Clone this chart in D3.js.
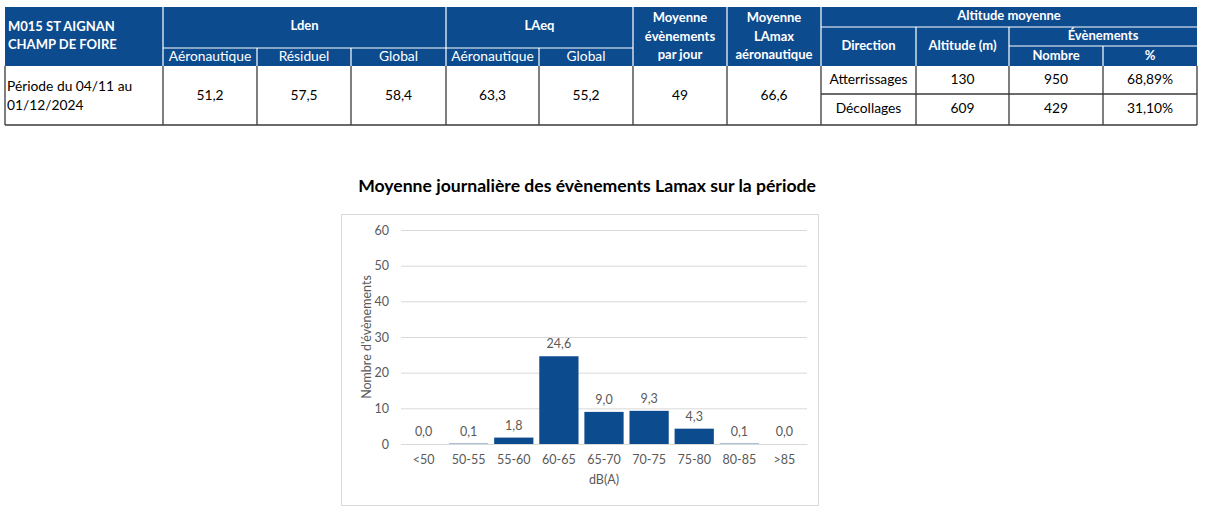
<!DOCTYPE html>
<html><head><meta charset="utf-8">
<script src="https://cdn.jsdelivr.net/npm/d3@7/dist/d3.min.js"></script>
<style>
body{margin:0;background:#fff;}
svg text{font-family:Lato,"Open Sans",sans-serif;}
</style></head>
<body><svg id="c" width="1206" height="510"></svg>
<script>
// ---- data ----
const stationLines = ["M015 ST AIGNAN", "CHAMP DE FOIRE"];
const periodLines = ["Période du 04/11 au", "01/12/2024"];
const ldenCols = ["Aéronautique", "Résiduel", "Global"];
const ldenValues = ["51,2", "57,5", "58,4"];
const laeqCols = ["Aéronautique", "Global"];
const laeqValues = ["63,3", "55,2"];
const moyEvtHeader = ["Moyenne", "évènements", "par jour"];
const moyEvtValue = "49";
const moyLamaxHeader = ["Moyenne", "LAmax", "aéronautique"];
const moyLamaxValue = "66,6";
const directions = ["Atterrissages", "Décollages"];
const altitudes = ["130", "609"];
const nombres = ["950", "429"];
const percents = ["68,89%", "31,10%"];

const categories = ["<50","50-55","55-60","60-65","65-70","70-75","75-80","80-85",">85"];
const values = [0.0, 0.1, 1.8, 24.6, 9.0, 9.3, 4.3, 0.1, 0.0];
const yTicks = [0,10,20,30,40,50,60];
const chartTitle = "Moyenne journalière des évènements Lamax sur la période";

const svg = d3.select("#c");
const blue = "#0d4b8f";
const fmt = v => d3.format(".1f")(v).replace(".", ",");

// ---- table ----
const colX = [5,163,257,351,446,539,633,727,821,916,1009,1103,1197];
const T = svg.append("g");
const yTop = 7, yMid = 48, ySub = 66, yBot = 125;
T.append("rect").attr("x",colX[0]).attr("y",yTop).attr("width",colX[12]-colX[0]).attr("height",ySub-yTop).attr("fill",blue);
const wline = (x1,y1,x2,y2)=>T.append("line").attr("x1",x1).attr("y1",y1).attr("x2",x2).attr("y2",y2).attr("stroke","#fff").attr("stroke-width",1.2);
[1,4,6,7,8].forEach(i=>wline(colX[i],yTop,colX[i],ySub));
[2,3,5].forEach(i=>wline(colX[i],yMid,colX[i],ySub));
[9,10].forEach(i=>wline(colX[i],27,colX[i],ySub));
wline(colX[11],46,colX[11],ySub);
wline(colX[1],yMid,colX[6],yMid);
wline(colX[8],27,colX[12],27);
wline(colX[10],46,colX[12],46);

const txt = (x,y,s,opts={})=>T.append("text").attr("x",x).attr("y",y).text(s)
  .attr("text-anchor",opts.anchor||"middle").attr("dominant-baseline","middle")
  .attr("font-size",opts.size||(opts.bold?13:13.8)).attr("font-weight",opts.bold?"bold":"normal")
  .attr("fill",opts.fill||"#000");
const mid = (a,b)=>(colX[a]+colX[b])/2;
stationLines.forEach((s,i)=>txt(8,28+i*18,s,{anchor:"start",bold:true,fill:"#fff"}));
txt(mid(1,4),27,"Lden",{bold:true,fill:"#fff"});
ldenCols.forEach((s,i)=>txt(mid(1+i,2+i),57,s,{fill:"#fff"}));
txt(mid(4,6),27,"LAeq",{bold:true,fill:"#fff"});
laeqCols.forEach((s,i)=>txt(mid(4+i,5+i),57,s,{fill:"#fff"}));
moyEvtHeader.forEach((s,i)=>txt(mid(6,7),19+i*18.5,s,{bold:true,fill:"#fff"}));
moyLamaxHeader.forEach((s,i)=>txt(mid(7,8),19+i*18.5,s,{bold:true,fill:"#fff"}));
txt(mid(8,12),17,"Altitude moyenne",{bold:true,fill:"#fff"});
txt(mid(8,9),47,"Direction",{bold:true,fill:"#fff"});
txt(mid(9,10),47,"Altitude (m)",{bold:true,fill:"#fff"});
txt(mid(10,12),37,"Évènements",{bold:true,fill:"#fff"});
txt(mid(10,11),57,"Nombre",{bold:true,fill:"#fff"});
txt(mid(11,12),57,"%",{bold:true,fill:"#fff"});

const dline = (x1,y1,x2,y2)=>T.append("line").attr("x1",x1).attr("y1",y1).attr("x2",x2).attr("y2",y2).attr("stroke","#3a3a3a").attr("stroke-width",1.3);
[0,1,2,3,4,5,6,7,8,9,10,11,12].forEach(i=>dline(colX[i],ySub,colX[i],yBot));
dline(colX[0],yBot,colX[12],yBot);
dline(colX[8],94,colX[12],94);
periodLines.forEach((s,i)=>txt(7,87+i*19,s,{anchor:"start"}));
const rowMid = 96;
ldenValues.forEach((s,i)=>txt(mid(1+i,2+i),rowMid,s));
laeqValues.forEach((s,i)=>txt(mid(4+i,5+i),rowMid,s));
txt(mid(6,7),rowMid,moyEvtValue);
txt(mid(7,8),rowMid,moyLamaxValue);
const rowYs=[80,109];
directions.forEach((s,i)=>{
  txt(mid(8,9),rowYs[i],s);
  txt(mid(9,10),rowYs[i],altitudes[i]);
  txt(mid(10,11),rowYs[i],nombres[i]);
  txt(mid(11,12),rowYs[i],percents[i]);
});

// ---- chart ----
svg.append("text").attr("x",587).attr("y",187).attr("text-anchor","middle").attr("dominant-baseline","middle")
  .attr("font-size",17.6).attr("font-weight","bold").attr("fill","#000").text(chartTitle);
svg.append("rect").attr("x",341.5).attr("y",214.5).attr("width",477).attr("height",291).attr("fill","none").attr("stroke","#d9d9d9");

const fs = 12.5;
const x = d3.scaleBand().domain(categories).range([401,807]).paddingInner(0.13).paddingOuter(0.065);
const y = d3.scaleLinear().domain([0,60]).range([444,230]);
const C = svg.append("g");
const gy = C.append("g").attr("transform","translate(401,0)")
  .call(d3.axisLeft(y).tickValues(yTicks).tickSize(-406).tickPadding(12).tickFormat(d3.format("d")));
gy.select(".domain").remove();
gy.selectAll(".tick line").attr("stroke","#d9d9d9");
gy.selectAll(".tick text").attr("fill","#595959").attr("font-size",fs).attr("font-family","Lato,'Open Sans',sans-serif");

C.selectAll("rect.bar").data(values).enter().append("rect").attr("class","bar")
  .attr("x",(d,i)=>x(categories[i])).attr("width",x.bandwidth())
  .attr("y",d=>y(d)).attr("height",d=>y(0)-y(d)).attr("fill",blue);

const gx = C.append("g").attr("transform","translate(0,444)")
  .call(d3.axisBottom(x).tickSize(0).tickPadding(11));
gx.select(".domain").attr("stroke","#d9d9d9");
gx.selectAll(".tick text").attr("fill","#595959").attr("font-size",fs).attr("font-family","Lato,'Open Sans',sans-serif");

C.selectAll("text.lbl").data(values).enter().append("text").attr("class","lbl")
  .attr("x",(d,i)=>x(categories[i])+x.bandwidth()/2).attr("y",d=>y(d)-11)
  .attr("text-anchor","middle").attr("dominant-baseline","middle")
  .attr("font-size",fs).attr("fill","#595959").text(d=>fmt(d));

C.append("text").attr("x",604).attr("y",481).attr("text-anchor","middle").attr("dominant-baseline","middle")
  .attr("font-size",fs).attr("fill","#595959").text("dB(A)");
C.append("text").attr("transform","translate(368,337) rotate(-90)").attr("text-anchor","middle").attr("dominant-baseline","middle")
  .attr("font-size",fs).attr("fill","#595959").text("Nombre d'évènements");
</script></body></html>
